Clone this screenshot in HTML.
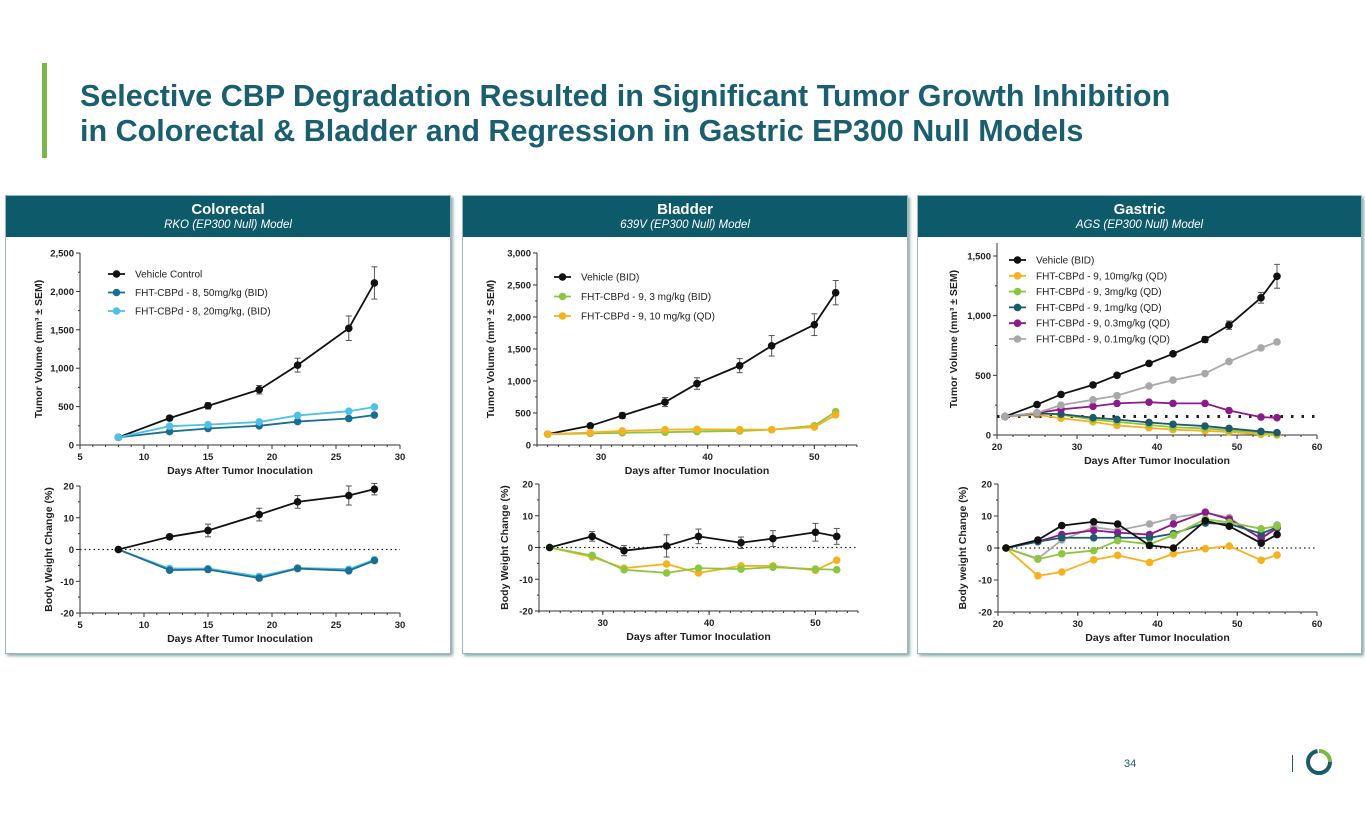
<!DOCTYPE html>
<html><head><meta charset="utf-8">
<style>
body{margin:0;width:1365px;height:829px;background:#fff;font-family:"Liberation Sans",Arial,sans-serif;position:relative;overflow:hidden}
.title{position:absolute;left:80px;top:79px;color:#1a5f70;font-weight:bold;font-size:30.5px;line-height:35px;white-space:nowrap}
.bar{position:absolute;left:42px;top:63px;width:5px;height:95px;background:#7ab648}
.panel{position:absolute;top:195px;height:457px;border:1px solid #9fb6c0;box-shadow:2px 2px 3px #8aa;background:#fff}
.hdr{background:#0d5a6b;color:#fff;text-align:center;height:41px}
.hdr b{display:block;font-size:15px;padding-top:5px}
.hdr i{display:block;font-size:11.5px;margin-top:1px}
svg{position:absolute;left:0;top:0}
</style></head><body>
<div class="bar"></div>
<div class="title">Selective CBP Degradation Resulted in Significant Tumor Growth Inhibition<br>in Colorectal &amp; Bladder and Regression in Gastric EP300 Null Models</div>
<div class="panel" style="left:5px;width:444px"><div class="hdr"><b>Colorectal</b><i>RKO (EP300 Null) Model</i></div></div>
<div class="panel" style="left:462px;width:444px"><div class="hdr"><b>Bladder</b><i>639V (EP300 Null) Model</i></div></div>
<div class="panel" style="left:917px;width:443px"><div class="hdr"><b>Gastric</b><i>AGS (EP300 Null) Model</i></div></div>
<div style="position:absolute;left:1124px;top:758px;font-size:11px;color:#1b5a6e">34</div>
<div style="position:absolute;left:1292px;top:755px;width:1px;height:17px;background:#1b5a6e"></div>
<svg width="1365" height="829" id="chart">
<circle cx="1319" cy="762" r="11" fill="none" stroke="#1b5a6e" stroke-width="4" stroke-dasharray="50 20"/>
<path d="M1319 751 A11 11 0 0 1 1330 762" fill="none" stroke="#7ab648" stroke-width="4"/>
</svg>
<script>
// Colorectal
const crDays=[8,12,15,19,22,26,28];
const crVeh=[100,350,510,720,1040,1520,2110];
const crVehSem=[10,30,40,55,90,160,210];
const cr50=[100,175,215,250,305,345,390];
const cr20=[100,245,265,300,385,440,495];
const crBwVeh=[0,4,6,11,15,17,19];
const crBwVehSem=[0,0.8,2,2,2,3,1.8];
const crBw50=[0,-6.5,-6.3,-9,-6,-6.7,-3.5];
const crBw20=[0,-6,-6,-8.5,-5.8,-6.2,-3.2];
const crYTicks=["0","500","1,000","1,500","2,000","2,500"];
// Bladder
const blDays=[25,29,32,36,39,43,46,50,52];
const blVeh=[170,300,460,670,960,1240,1550,1880,2380];
const blVehSem=[15,30,45,70,90,110,160,170,190];
const bl3=[170,180,190,200,210,220,240,300,520];
const bl10=[170,195,220,240,245,240,240,280,470];
const blBwVeh=[0,3.5,-1,0.5,3.5,1.5,2.8,4.8,3.5];
const blBwVehSem=[0,1.5,1.6,3.5,2.3,1.8,2.5,2.8,2.5];
const blBw3=[0,-2.5,-7,-8,-6.5,-6.8,-6.2,-6.8,-7];
const blBw10=[0,-3,-6.5,-5.2,-8,-5.8,-5.8,-7.2,-4];
const blYTicks=["0","500","1,000","1,500","2,000","2,500","3,000"];
// Gastric
const gaDays=[21,25,28,32,35,39,42,46,49,53,55];
const gaVeh=[155,255,340,420,500,600,680,800,920,1150,1330];
const gaVehSem=[5,10,15,15,15,15,15,25,35,45,100];
const ga10=[155,170,140,110,80,60,45,35,25,5,0];
const ga3=[155,185,170,130,110,85,65,55,40,20,10];
const ga1=[155,180,175,145,130,105,90,75,55,30,20];
const ga03=[155,185,215,240,265,275,265,265,205,150,145];
const ga01=[155,185,250,295,330,410,460,515,615,730,780];
const gaBwVeh=[0,2.5,7,8.2,7.5,0.8,0,8.5,6.8,1.5,4.2];
const gaBw10=[0,-8.7,-7.5,-3.7,-2.3,-4.5,-1.8,-0.2,0.6,-3.8,-2.2];
const gaBw3=[0,-3.5,-1.8,-0.8,2.3,1.2,4,9,8,6,6.8];
const gaBw1=[0,2,3.2,3.2,3.2,3.2,4.5,7.8,7.5,4.5,6.5];
const gaBw03=[0,2,4.2,5.5,4.8,4.2,7.5,11.2,9,3,6.2];
const gaBw01=[0,-3.3,2.5,6.5,5.5,7.5,9.5,11,9.5,2.8,7.2];
const gaYTicks=["0","500","1,000","1,500"];
const bwTicks=["-20","-10","0","10","20"];

const svg=document.getElementById('chart');
const NS='http://www.w3.org/2000/svg';
function mk(tag,a,txt){const e=document.createElementNS(NS,tag);for(const k in a)e.setAttribute(k,a[k]);if(txt!=null)e.textContent=txt;svg.appendChild(e);return e;}

function plot(c){
  const sx=v=>c.x0+(v-c.xmin)/(c.xmax-c.xmin)*(c.x1-c.x0);
  const sy=v=>c.y0-(v-c.ymin)/(c.ymax-c.ymin)*(c.y0-c.y1);
  let a=mk('line',{x1:c.x0,x2:c.x0,y1:c.y0,y2:c.ytop||c.y1,stroke:'#333','stroke-width':1});
  
  a=mk('line',{x1:c.x0,x2:c.x1,y1:c.y0,y2:c.y0,stroke:'#333','stroke-width':1});
  
  c.yt.forEach((t,i)=>{const v=c.ymin+i*c.ystep,y=sy(v);
    mk('line',{x1:c.x0-4,x2:c.x0,y1:y,y2:y,stroke:'#333'});
    if(v+c.ystep/2<=c.ymax)mk('line',{x1:c.x0-2,x2:c.x0,y1:sy(v+c.ystep/2),y2:sy(v+c.ystep/2),stroke:'#333'});
    const e=mk('text',{x:c.x0-6,y:y+3.5,'text-anchor':'end','font-size':9.5,'font-weight':'bold',fill:'#222'},t);
    });
  for(let v=c.xmin;v<=c.xmax+0.01;v+=c.xminor){const x=sx(v);mk('line',{x1:x,x2:x,y1:c.y0,y2:c.y0+2,stroke:'#333'});}
  c.xt.forEach(v=>{const x=sx(v);mk('line',{x1:x,x2:x,y1:c.y0,y2:c.y0+4,stroke:'#333'});
    const e=mk('text',{x:x,y:c.y0+15,'text-anchor':'middle','font-size':9.5,'font-weight':'bold',fill:'#222'},v);
    });
  let e=mk('text',{x:(c.x0+c.x1)/2,y:c.y0+29,'text-anchor':'middle','font-size':10.5,'font-weight':'bold',fill:'#222'},c.xtitle);
  
  const yc=(c.y0+(c.ytop||c.y1))/2, yx=c.x0-(c.yoff||38);
  e=mk('text',{x:yx,y:yc,'text-anchor':'middle','font-size':10.5,'font-weight':'bold',fill:'#222',transform:`rotate(-90 ${yx} ${yc})`},c.ytitle);
  
  if(c.ref!=null){e=mk('line',{x1:c.x0,x2:c.x1,y1:sy(c.ref),y2:sy(c.ref),stroke:'#222','stroke-width':c.refw||1.2,'stroke-dasharray':c.refd||'1.5 3'});
    }
  c.series.forEach(s=>{
    if(s.sem)s.v.forEach((v,i)=>{const x=sx(c.days[i]);if(!s.sem[i])return;
      mk('line',{x1:x,x2:x,y1:sy(v-s.sem[i]),y2:sy(v+s.sem[i]),stroke:'#555','stroke-width':1});
      mk('line',{x1:x-3,x2:x+3,y1:sy(v+s.sem[i]),y2:sy(v+s.sem[i]),stroke:'#555'});
      mk('line',{x1:x-3,x2:x+3,y1:sy(v-s.sem[i]),y2:sy(v-s.sem[i]),stroke:'#555'});});
    const p=mk('polyline',{points:s.v.map((v,i)=>sx(c.days[i])+','+sy(v)).join(' '),fill:'none',stroke:s.c,'stroke-width':1.8});
    
    s.v.forEach((v,i)=>{const d=mk('circle',{cx:sx(c.days[i]),cy:sy(v),r:3.8,fill:s.c});
      });
  });
  if(c.leg){c.series.slice().forEach((s,i)=>{const y=c.leg.y+i*c.leg.dy;
    mk('line',{x1:c.leg.x,x2:c.leg.x+17,y1:y,y2:y,stroke:s.c,'stroke-width':1.8});
    mk('circle',{cx:c.leg.x+8.5,cy:y,r:3.8,fill:s.c});
    const t=mk('text',{x:c.leg.x+27,y:y+3.5,'font-size':10,fill:'#222'},s.label);
    });}
}
const TV='Tumor Volume (mm³ ± SEM)';
// Colorectal
plot({id:'colorectal-volume',x0:80,x1:400,xmin:5,xmax:30,xminor:1,xt:[5,10,15,20,25,30],y0:445,y1:253,ymin:0,ymax:2500,ystep:500,yt:crYTicks,days:crDays,xtitle:'Days After Tumor Inoculation',ytitle:TV,yoff:38,leg:{x:108,y:274,dy:18.5},
 series:[{n:'vehicle',c:'#111',v:crVeh,sem:crVehSem,label:'Vehicle Control'},{n:'50mg',c:'#1a6e92',v:cr50,label:'FHT-CBPd - 8, 50mg/kg (BID)'},{n:'20mg',c:'#4fc1e8',v:cr20,label:'FHT-CBPd - 8, 20mg/kg, (BID)'}]});
plot({id:'colorectal-bw',x0:80,x1:400,xmin:5,xmax:30,xminor:1,xt:[5,10,15,20,25,30],y0:613,y1:486,ymin:-20,ymax:20,ystep:10,yt:bwTicks,days:crDays,xtitle:'Days After Tumor Inoculation',ytitle:'Body Weight Change (%)',yoff:28,ref:0,
 series:[{n:'20mg',c:'#4fc1e8',v:crBw20},{n:'50mg',c:'#1a6e92',v:crBw50},{n:'vehicle',c:'#111',v:crBwVeh,sem:crBwVehSem}]});
// Bladder
plot({id:'bladder-volume',x0:537,x1:857,xmin:24,xmax:54,xminor:1,xt:[30,40,50],y0:445,y1:253,ymin:0,ymax:3000,ystep:500,yt:blYTicks,days:blDays,xtitle:'Days after Tumor Inoculation',ytitle:TV,yoff:43,leg:{x:554,y:277,dy:19.5},
 series:[{n:'vehicle',c:'#111',v:blVeh,sem:blVehSem,label:'Vehicle (BID)'},{n:'3mg',c:'#8cc63f',v:bl3,label:'FHT-CBPd - 9, 3 mg/kg (BID)'},{n:'10mg',c:'#f5b21e',v:bl10,label:'FHT-CBPd - 9, 10 mg/kg (QD)'}]});
plot({id:'bladder-bw',x0:539,x1:858,xmin:24,xmax:54,xminor:1,xt:[30,40,50],y0:611,y1:484,ymin:-20,ymax:20,ystep:10,yt:bwTicks,days:blDays,xtitle:'Days after Tumor Inoculation',ytitle:'Body Weight Change (%)',yoff:31,ref:0,
 series:[{n:'10mg',c:'#f5b21e',v:blBw10},{n:'3mg',c:'#8cc63f',v:blBw3},{n:'vehicle',c:'#111',v:blBwVeh,sem:blBwVehSem}]});
// Gastric
plot({id:'gastric-volume',x0:997,x1:1317,xmin:20,xmax:60,xminor:2,xt:[20,30,40,50,60],y0:435,y1:256,ytop:243,ymin:0,ymax:1500,ystep:500,yt:gaYTicks,days:gaDays,xtitle:'Days After Tumor Inoculation',ytitle:TV,yoff:40,ref:155,refw:3,refd:'2.5 8',leg:{x:1009,y:260,dy:15.8},
 series:[{n:'vehicle',c:'#111',v:gaVeh,sem:gaVehSem,label:'Vehicle (BID)'},{n:'10mg',c:'#f5b21e',v:ga10,label:'FHT-CBPd - 9, 10mg/kg (QD)'},{n:'3mg',c:'#8cc63f',v:ga3,label:'FHT-CBPd - 9, 3mg/kg (QD)'},{n:'1mg',c:'#1f5a6a',v:ga1,label:'FHT-CBPd - 9, 1mg/kg (QD)'},{n:'0.3mg',c:'#8b1a8b',v:ga03,label:'FHT-CBPd - 9, 0.3mg/kg (QD)'},{n:'0.1mg',c:'#a8a8a8',v:ga01,label:'FHT-CBPd - 9, 0.1mg/kg (QD)'}]});
plot({id:'gastric-bw',x0:998,x1:1317,xmin:20,xmax:60,xminor:2,xt:[20,30,40,50,60],y0:612,y1:484,ymin:-20,ymax:20,ystep:10,yt:bwTicks,days:gaDays,xtitle:'Days after Tumor Inoculation',ytitle:'Body weight Change (%)',yoff:32,ref:0,
 series:[{n:'0.1mg',c:'#a8a8a8',v:gaBw01},{n:'0.3mg',c:'#8b1a8b',v:gaBw03},{n:'1mg',c:'#1f5a6a',v:gaBw1},{n:'3mg',c:'#8cc63f',v:gaBw3},{n:'10mg',c:'#f5b21e',v:gaBw10},{n:'vehicle',c:'#111',v:gaBwVeh}]});
</script>
</body></html>
